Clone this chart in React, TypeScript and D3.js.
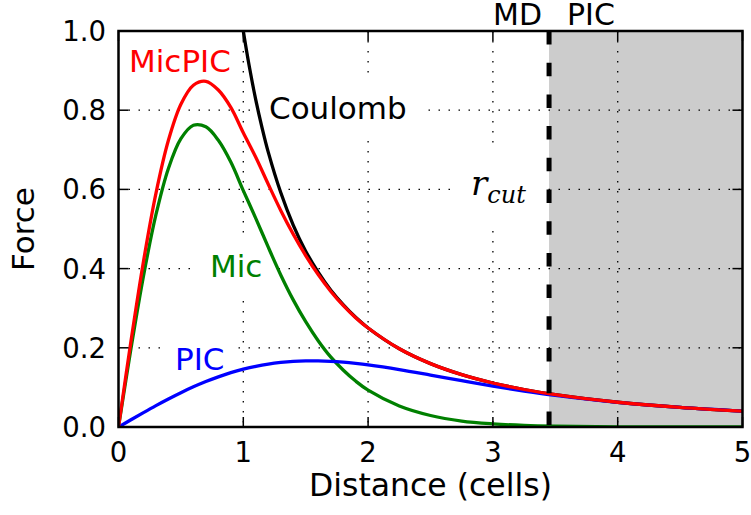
import React from "react";
import * as d3 from "d3";

const xs = [0, 0.1, 0.2, 0.3, 0.4, 0.5, 0.6, 0.7, 0.8, 0.9, 1.0, 1.1, 1.2, 1.3, 1.4, 1.5, 1.6, 1.7, 1.8, 1.9, 2.0, 2.25, 2.5, 2.75, 3, 3.25, 3.5, 4, 4.5, 5];
const micpic = [0, 0.217, 0.418, 0.59, 0.724, 0.815, 0.863, 0.873, 0.851, 0.807, 0.743, 0.681, 0.613, 0.547, 0.487, 0.433, 0.385, 0.343, 0.307, 0.276, 0.25, 0.1975, 0.16, 0.1322, 0.1111, 0.0947, 0.0816, 0.0625, 0.0494, 0.04];
const pic = [0, 0.0183, 0.0364, 0.054, 0.0708, 0.0866, 0.1014, 0.1148, 0.1267, 0.1372, 0.146, 0.1533, 0.159, 0.1631, 0.1658, 0.167, 0.167, 0.1659, 0.1637, 0.1606, 0.1568, 0.1449, 0.1311, 0.1169, 0.1032, 0.0908, 0.0798, 0.0621, 0.0493, 0.04];
const mic = [0, 0.198, 0.381, 0.536, 0.653, 0.728, 0.762, 0.758, 0.724, 0.669, 0.597, 0.527, 0.454, 0.384, 0.321, 0.266, 0.218, 0.177, 0.144, 0.116, 0.093, 0.053, 0.029, 0.015, 0.008, 0.004, 0.002, 0.0004, 0.0001, 0];
const coulombX = [0.98, 1.0, 1.05, 1.1, 1.15, 1.2, 1.3, 1.4, 1.5, 1.6, 1.7, 1.8, 1.9, 2.0, 2.25, 2.5, 2.75, 3, 3.25, 3.5, 4, 4.5, 5];
const coulombY = [1.041, 1.0, 0.907, 0.826, 0.756, 0.694, 0.592, 0.51, 0.444, 0.391, 0.346, 0.309, 0.277, 0.25, 0.1975, 0.16, 0.1322, 0.1111, 0.0947, 0.0816, 0.0625, 0.0494, 0.04];
const rcut = 3.45;
const xTicks = [0, 1, 2, 3, 4, 5];
const yTicks = [0, 0.2, 0.4, 0.6, 0.8, 1.0];
const xGrid = [1, 2, 3, 4];
const yGrid = [0.2, 0.4, 0.6, 0.8];

const W = 751, H = 515;
const L = 118.5, R = 742.5, T = 31, B = 427;
const FONT = "DejaVu Sans, sans-serif";

export default function App() {
  const x = d3.scaleLinear().domain([0, 5]).range([L, R]);
  const y = d3.scaleLinear().domain([0, 1]).range([B, T]);
  const line = d3.line<[number, number]>().x(d => x(d[0])).y(d => y(d[1])).curve(d3.curveCatmullRom.alpha(0.5));
  const pts = (ys: number[]) => xs.map((v, i) => [v, ys[i]] as [number, number]);
  const coul = coulombX.map((v, i) => [v, coulombY[i]] as [number, number]);
  const tickLen = 10;

  // label boxes: [x, y, w, h]
  const boxes = [
    [253, 74, 171, 64],   // Coulomb
    [195, 237, 82, 59],   // Mic
    [161, 328, 76, 60],   // PIC
    [451, 150, 94, 75],   // r_cut
  ];

  return (
    <svg width={W} height={H} style={{ position: "absolute", left: 0, top: 0, background: "#fff" }}>
      <defs>
        <clipPath id="plot">
          <rect x={L} y={T} width={R - L} height={B - T} />
        </clipPath>
      </defs>
      <rect x={0} y={0} width={W} height={H} fill="#fff" />
      <rect x={x(rcut)} y={T} width={R - x(rcut)} height={B - T} fill="#cccccc" />
      {xGrid.map(t => (
        <line key={"gx" + t} x1={x(t)} x2={x(t)} y1={T} y2={B} stroke="#000" strokeWidth={1.3} strokeDasharray="1.5,8.5" />
      ))}
      {yGrid.map(t => (
        <line key={"gy" + t} x1={L} x2={R} y1={y(t)} y2={y(t)} stroke="#000" strokeWidth={1.3} strokeDasharray="1.5,8.5" />
      ))}
      {boxes.map((b, i) => (
        <rect key={"b" + i} x={b[0]} y={b[1]} width={b[2]} height={b[3]} fill="#fff" />
      ))}
      <g clipPath="url(#plot)" fill="none" strokeWidth={3.3} strokeLinejoin="round">
        <path d={line(coul) || ""} stroke="#000" />
        <path d={line(pts(mic)) || ""} stroke="#008000" />
        <path d={line(pts(pic)) || ""} stroke="#0000ff" />
        <path d={line(pts(micpic)) || ""} stroke="#ff0000" />
      </g>
      <line x1={x(rcut)} x2={x(rcut)} y1={y(1)} y2={y(0)} stroke="#000" strokeWidth={5} strokeDasharray="13.5,18.2" />
      {/* ticks */}
      {xTicks.map(t => (
        <g key={"tx" + t} stroke="#000" strokeWidth={1.5}>
          <line x1={x(t)} x2={x(t)} y1={B} y2={B - tickLen} />
          <line x1={x(t)} x2={x(t)} y1={T} y2={T + tickLen} />
        </g>
      ))}
      {yTicks.map(t => (
        <g key={"ty" + t} stroke="#000" strokeWidth={1.5}>
          <line x1={L} x2={L + tickLen} y1={y(t)} y2={y(t)} />
          <line x1={R} x2={R - tickLen} y1={y(t)} y2={y(t)} />
        </g>
      ))}
      <rect x={L} y={T} width={R - L} height={B - T} fill="none" stroke="#000" strokeWidth={2.5} />
      {/* tick labels */}
      {xTicks.map(t => (
        <text key={"lx" + t} x={x(t)} y={461.5} textAnchor="middle" fontFamily={FONT} fontSize={27.5} fill="#000">{d3.format("d")(t)}</text>
      ))}
      {yTicks.map(t => (
        <text key={"ly" + t} x={106} y={y(t) + 10} textAnchor="end" fontFamily={FONT} fontSize={27.5} fill="#000">{d3.format(".1f")(t)}</text>
      ))}
      <text x={(L + R) / 2} y={496} textAnchor="middle" fontFamily={FONT} fontSize={31.5} fill="#000">Distance (cells)</text>
      <text transform={`translate(34,${(T + B) / 2}) rotate(-90)`} textAnchor="middle" fontFamily={FONT} fontSize={31} fill="#000">Force</text>
      {/* curve labels */}
      <text x={129} y={72} fontFamily={FONT} fontSize={31} fill="#ff0000">MicPIC</text>
      <text x={269} y={119} fontFamily={FONT} fontSize={31} fill="#000">Coulomb</text>
      <text x={210} y={277} fontFamily={FONT} fontSize={31} fill="#008000">Mic</text>
      <text x={175} y={370} fontFamily={FONT} fontSize={31} fill="#0000ff">PIC</text>
      <text x={493} y={25} fontFamily={FONT} fontSize={30} fill="#000">MD</text>
      <text x={567} y={25} fontFamily={FONT} fontSize={30} fill="#000">PIC</text>
      <text x={471} y={195} fontFamily="DejaVu Serif, serif" fontStyle="italic" fontSize={34} fill="#000">
        r<tspan fontSize={24} dy={8}>cut</tspan>
      </text>
    </svg>
  );
}
